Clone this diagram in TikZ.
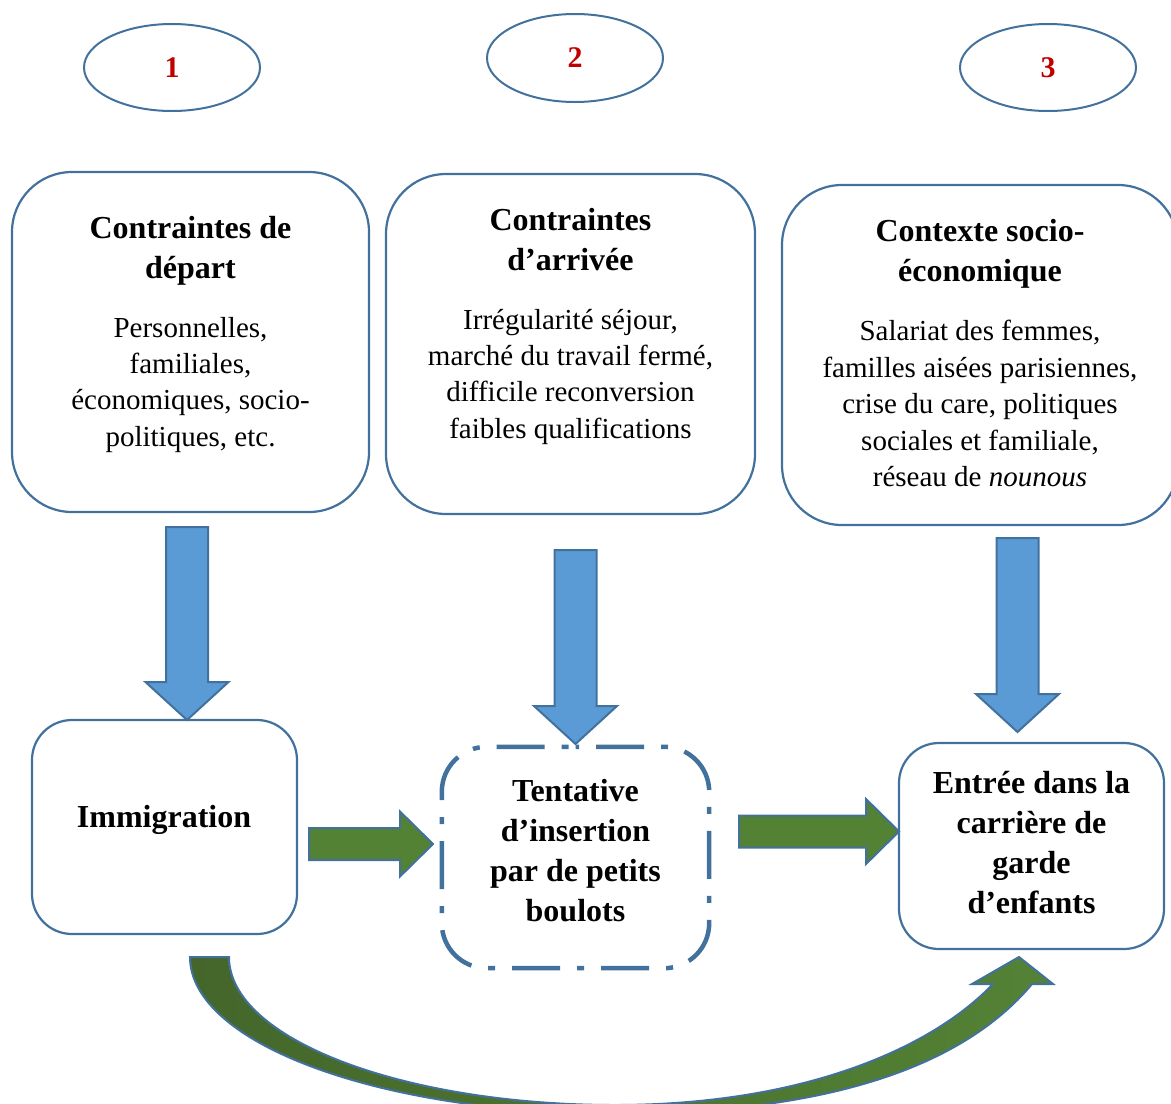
\documentclass[tikz,border=0pt]{standalone}
\usepackage{fontspec}
\setmainfont{Liberation Serif}
\usetikzlibrary{calc,shapes.geometric}
\definecolor{bord}{RGB}{65,113,156}
\definecolor{bluef}{RGB}{91,155,213}
\definecolor{greenf}{RGB}{84,130,53}
\definecolor{greend}{RGB}{68,102,43}
\definecolor{numred}{RGB}{192,0,0}
\tikzset{
  box/.style={draw=bord, line width=2.2pt, rounded corners=#1, inner sep=0pt, fill=white},
  box/.default=50pt,
  dashline/.style={draw=bord, line width=4.5pt, rounded corners=45pt,
    dash pattern=on 7pt off 17pt on 48pt off 17pt, dash phase=3.5pt},
  numell/.style={ellipse, draw=bord, line width=2pt, inner sep=0pt, minimum width=176pt,
    minimum height=87pt, text=numred, font=\fontsize{30}{36}\selectfont\bfseries},
  ttl/.style={align=center, inner sep=0pt, anchor=north, font=\fontsize{32}{40}\selectfont\bfseries},
  bdy/.style={align=center, inner sep=0pt, anchor=north, font=\fontsize{29}{36.3}\selectfont},
  barrow/.style={draw=bord, line width=2pt, fill=bluef},
  garrow/.style={draw=bord, line width=2pt, fill=greenf},
}
\newcommand\downblock[2]{\path[barrow] let \p1=(#1), \p2=(#2) in
  (\x1-21pt,\y1) -- (\x1+21pt,\y1) -- (\x1+21pt,\y2+38pt) -- (\x1+41.5pt,\y2+38pt)
  -- (\x2,\y2) -- (\x1-41.5pt,\y2+38pt) -- (\x1-21pt,\y2+38pt) -- cycle;}
\newcommand\rightblock[2]{\path[garrow] let \p1=(#1), \p2=(#2) in
  (\x1,\y1+16pt) -- (\x2-33pt,\y1+16pt) -- (\x2-33pt,\y1+32.5pt) -- (\x2,\y2)
  -- (\x2-33pt,\y1-32.5pt) -- (\x2-33pt,\y1-16pt) -- (\x1,\y1-16pt) -- cycle;}
\begin{document}
\begin{tikzpicture}[x=1pt,y=-1pt]
\useasboundingbox (0,0) rectangle (1171,1104);

% numbered ellipses
\node[numell] (e1) at (172,67.5) {1};
\node[numell, minimum height=88pt] (e2) at (575,58) {2};
\node[numell] (e3) at (1048,67.5) {3};

% top boxes
\node[box=60pt, minimum width=357pt, minimum height=340pt] (b1) at (190.5,342) {};
\node[box=60pt, minimum width=369pt, minimum height=340pt] (b2) at (570.5,344) {};
\node[box=60pt, minimum width=396pt, minimum height=340pt] (b3) at (980,355) {};

\node[ttl] (b1t) at (190.5,216) {Contraintes de\\départ};
\node[bdy] (b1b) at (190.5,317) {Personnelles,\\familiales,\\économiques, socio-\\politiques, etc.};
\node[ttl] (b2t) at (570.5,208) {Contraintes\\d’arrivée};
\node[bdy] (b2b) at (570.5,309) {Irrégularité séjour,\\marché du travail fermé,\\difficile reconversion\\faibles qualifications};
\node[ttl] (b3t) at (980,219) {Contexte socio-\\économique};
\node[bdy, font=\fontsize{29}{36.5}\selectfont] (b3b) at (980,320) {Salariat des femmes,\\familles aisées parisiennes,\\crise du care, politiques\\sociales et familiale,\\réseau de \textit{nounous}};

% bottom boxes
\node[box=40pt, minimum width=265pt, minimum height=214pt] (im) at (164.5,827) {};
\node[font=\fontsize{32}{40}\selectfont\bfseries, anchor=base, inner sep=0pt] (imt) at (164,827) {Immigration};
\node[inner sep=0pt, minimum width=267pt, minimum height=221pt] (te) at (575.5,857.5) {};
\draw[dashline] (te.north) -| (te.east) |- (te.south) -| (te.west) |- (te.north);
\node[ttl] (tet) at (575.5,779) {Tentative\\d’insertion\\par de petits\\boulots};
\node[box=40pt, minimum width=265pt, minimum height=206pt] (en) at (1031.5,846) {};
\node[ttl] (ent) at (1031.5,771) {Entrée dans la\\carrière de\\garde\\d’enfants};

% blue arrows
\coordinate (a1s) at (187,527);  \coordinate (a1e) at (187,720);
\coordinate (a2s) at (575.5,550); \coordinate (a2e) at (575.5,744);
\coordinate (a3s) at (1017.5,538); \coordinate (a3e) at (1017.5,732);
\downblock{a1s}{a1e}
\downblock{a2s}{a2e}
\downblock{a3s}{a3e}

% green arrows
\coordinate (g1s) at (309,844); \coordinate (g1e) at (433,844);
\coordinate (g2s) at (739,831.5); \coordinate (g2e) at (899,831.5);
\rightblock{g1s}{g1e}
\rightblock{g2s}{g2e}

% curved arrow
\path[draw=bord, line width=2pt, left color=greend, right color=greenf]
  (190,957) -- (229,957)
  .. controls (229,1038.7) and (401.8,1105) .. (615,1105)
  .. controls (800,1105) and (930,1050) .. (993,984)
  -- (972,984) -- (1019,957) -- (1053,984) -- (1032,984)
  .. controls (960,1070) and (820,1113.5) .. (615,1113.5)
  .. controls (380.3,1113.5) and (190,1043.4) .. (190,957) -- cycle;
\end{tikzpicture}
\end{document}
